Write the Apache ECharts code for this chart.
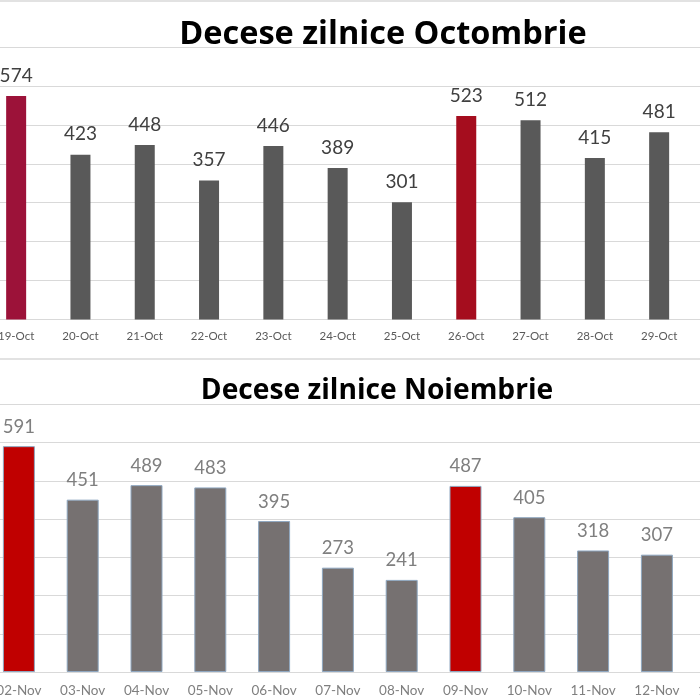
<!DOCTYPE html>
<html>
<head>
<meta charset="utf-8">
<script src="https://cdn.jsdelivr.net/npm/echarts@6/dist/echarts.min.js"></script>
<style>html,body{margin:0;padding:0;background:#fff;}#c{width:700px;height:700px;}</style>
</head>
<body>
<div id="c"></div>
<script>
const octCategories = ['19-Oct','20-Oct','21-Oct','22-Oct','23-Oct','24-Oct','25-Oct','26-Oct','27-Oct','28-Oct','29-Oct','30-Oct'];
const octValues = [574, 423, 448, 357, 446, 389, 301, 523, 512, 415, 481, null];
const octHighlight = ['19-Oct', '26-Oct'];
const novCategories = ['02-Nov','03-Nov','04-Nov','05-Nov','06-Nov','07-Nov','08-Nov','09-Nov','10-Nov','11-Nov','12-Nov','13-Nov'];
const novValues = [591, 451, 489, 483, 395, 273, 241, 487, 405, 318, 307, null];
const novHighlight = ['02-Nov', '09-Nov'];
const octTitle = 'Decese zilnice Octombrie';
const novTitle = 'Decese zilnice Noiembrie';

const FONT = 'Lato, "Open Sans", sans-serif';
const TFONT = '"Open Sans", Lato, sans-serif';
const octColors = {'19-Oct': '#9c1239', '26-Oct': '#a50d1e'};

const chart = echarts.init(document.getElementById('c'), null, {renderer: 'canvas'});

const octData = octValues.map((v, i) => ({
  value: v,
  itemStyle: {color: octHighlight.includes(octCategories[i]) ? octColors[octCategories[i]] : '#595959'}
}));
const novData = novValues.map((v, i) => ({
  value: v,
  itemStyle: {color: novHighlight.includes(novCategories[i]) ? '#c00000' : '#767171'}
}));

chart.setOption({
  animation: false,
  backgroundColor: '#ffffff',
  title: [
    {text: octTitle, left: 378, top: 13, textAlign: 'center',
     textStyle: {fontFamily: TFONT, fontWeight: 'bold', fontSize: 32.5, color: '#000'}},
    {text: novTitle, left: 372, top: 372, textAlign: 'center',
     textStyle: {fontFamily: TFONT, fontWeight: 'bold', fontSize: 28.2, color: '#000'}}
  ],
  graphic: [
    {type: 'line', shape: {x1: 0, y1: 1, x2: 700, y2: 1}, style: {stroke: '#d9d9d9', lineWidth: 1.5}, z: 0},
    {type: 'line', shape: {x1: 0, y1: 359, x2: 700, y2: 359}, style: {stroke: '#d9d9d9', lineWidth: 1.5}, z: 0}
  ],
  grid: [
    {left: -16, top: 47, width: 771.6, height: 272.5, containLabel: false, outerBoundsMode: 'none'},
    {left: -13, top: 404.5, width: 765.6, height: 267.5, containLabel: false, outerBoundsMode: 'none'}
  ],
  xAxis: [
    {type: 'category', gridIndex: 0, data: octCategories,
     axisLine: {lineStyle: {color: '#d9d9d9', width: 1}},
     axisTick: {length: 5, lineStyle: {color: '#d9d9d9'}},
     axisLabel: {fontFamily: FONT, fontSize: 11.5, color: '#595959', margin: 11, interval: 0}},
    {type: 'category', gridIndex: 1, data: novCategories,
     axisLine: {lineStyle: {color: '#d9d9d9', width: 1}},
     axisTick: {length: 5, lineStyle: {color: '#d9d9d9'}},
     axisLabel: {fontFamily: FONT, fontSize: 13.5, color: '#7f7f7f', margin: 12, interval: 0, hideOverlap: false}}
  ],
  yAxis: [
    {type: 'value', gridIndex: 0, min: 0, max: 700, interval: 100,
     axisLabel: {show: false}, axisLine: {show: false}, axisTick: {show: false},
     splitLine: {lineStyle: {color: '#d9d9d9', width: 1}}},
    {type: 'value', gridIndex: 1, min: 0, max: 700, interval: 100,
     axisLabel: {show: false}, axisLine: {show: false}, axisTick: {show: false},
     splitLine: {lineStyle: {color: '#d9d9d9', width: 1}}}
  ],
  series: [
    {type: 'bar', xAxisIndex: 0, yAxisIndex: 0, data: octData, barWidth: 20,
     label: {show: true, position: 'top', distance: 11, fontFamily: FONT, fontSize: 19, color: '#404040'}},
    {type: 'bar', xAxisIndex: 1, yAxisIndex: 1, data: novData, barWidth: 32,
     itemStyle: {borderColor: '#8fa7c0', borderWidth: 1},
     label: {show: true, position: 'top', distance: 10, fontFamily: FONT, fontSize: 18.5, color: '#7f7f7f'}}
  ]
});
</script>
</body>
</html>
